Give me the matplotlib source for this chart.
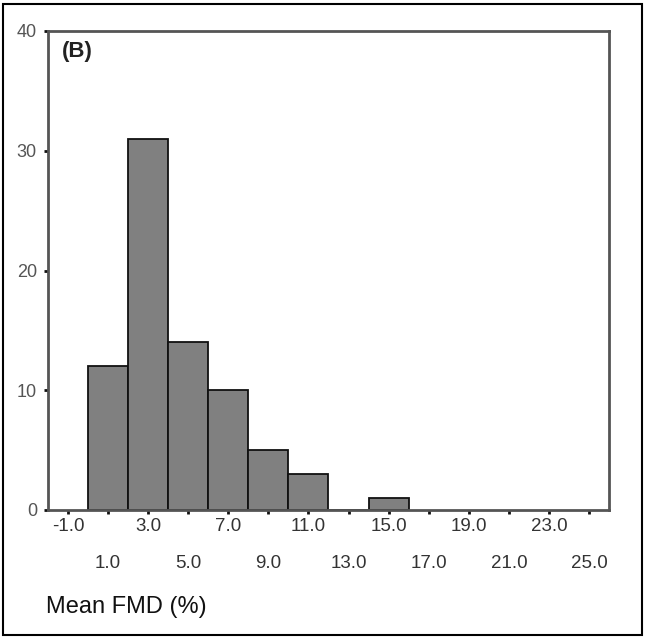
import matplotlib
matplotlib.use("Agg")
import matplotlib.pyplot as plt
from matplotlib.patches import Rectangle

plt.rcParams['font.family'] = ['Liberation Sans', 'DejaVu Sans']

# Data
bin_lefts = [0, 2, 4, 6, 8, 10, 12, 14]
counts = [12, 31, 14, 10, 5, 3, 0, 1]
bin_width = 2
top_ticks = [-1, 3, 7, 11, 15, 19, 23]
bottom_ticks = [1, 5, 9, 13, 17, 21, 25]
y_ticks = [0, 10, 20, 30, 40]
panel_label = "(B)"
x_label = "Mean FMD (%)"

fig = plt.figure(figsize=(6.45, 6.38), dpi=100)
ax = fig.add_axes([48/645, 1-510/638, (609-48)/645, (510-31)/638])

ax.bar(bin_lefts, counts, width=bin_width, align='edge',
       color='#808080', edgecolor='#111111', linewidth=1.3)

ax.set_xlim(-2, 26)
ax.set_ylim(0, 40)

for s in ax.spines.values():
    s.set_color('#555555')
    s.set_linewidth(2)

ax.set_yticks(y_ticks)
ax.set_yticklabels([str(v) for v in y_ticks], fontsize=13, color='#555555')
ax.tick_params(axis='y', length=3, width=2, color='#111111', pad=5)

ax.set_xticks(top_ticks)
ax.set_xticklabels([f"{v:.1f}" for v in top_ticks], fontsize=13.5, color='#333333')
ax.set_xticks(bottom_ticks, minor=True)
ax.set_xticklabels([f"{v:.1f}" for v in bottom_ticks], minor=True, fontsize=13.5, color='#333333')
ax.tick_params(axis='x', which='major', length=3, width=2, color='#111111', pad=3)
ax.tick_params(axis='x', which='minor', length=3, width=2, color='#111111', pad=29.5)

ax.text(0.025, 0.98, panel_label, transform=ax.transAxes, fontsize=16,
        fontweight='bold', va='top', ha='left', color='#222222')

fig.text(46/645, 1-607/638, x_label, fontsize=17, ha='left', va='center', color='#111111')

fig.patches.append(Rectangle((3/645, 3/638), 639/645, 631/638, transform=fig.transFigure,
                             fill=False, edgecolor='black', linewidth=1.5))

fig.savefig("out.png", dpi=100)
